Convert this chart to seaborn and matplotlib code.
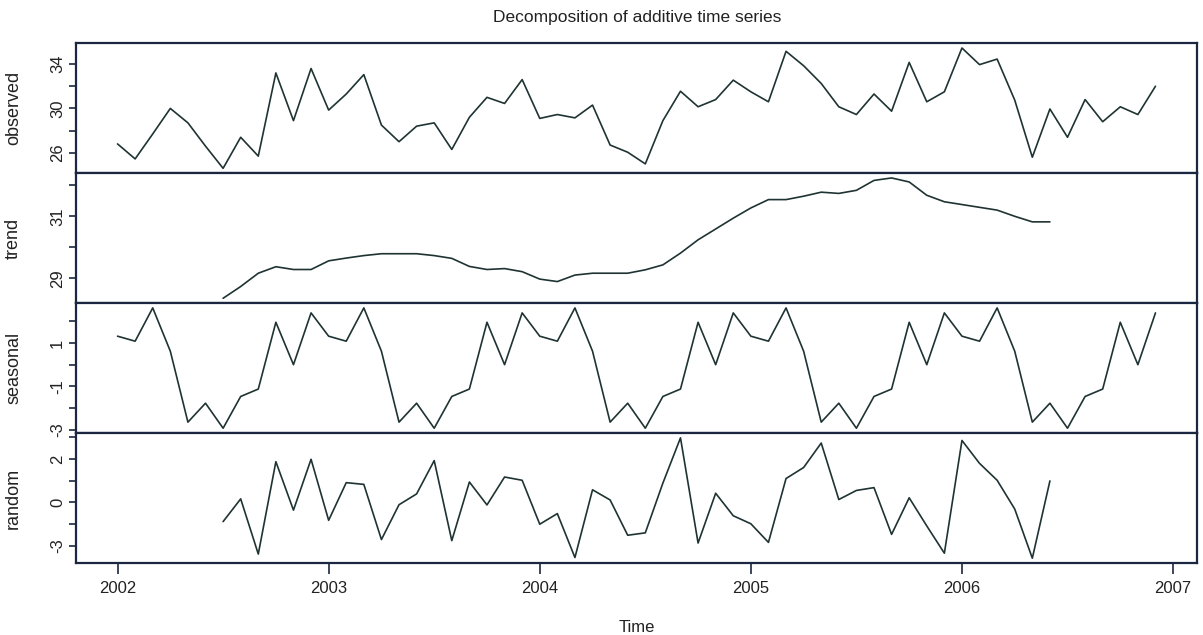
import numpy as np
import pandas as pd
import matplotlib
matplotlib.use("Agg")
import matplotlib.pyplot as plt
import seaborn as sns

# Monthly series, Jan 2002 - Dec 2006
start_year = 2002
n_months = 60

observed = [26.8, 25.45, 27.7, 30.0, 28.7, 26.6, 24.6, 27.4, 25.7, 33.2, 28.9, 33.6,
            29.85, 31.3, 33.05, 28.5, 27.0, 28.4, 28.7, 26.3, 29.2, 31.0, 30.45, 32.6,
            29.1, 29.45, 29.15, 30.3, 26.7, 26.05, 25.0, 28.9, 31.55, 30.15, 30.8, 32.55,
            31.5, 30.6, 35.15, 33.85, 32.25, 30.15, 29.45, 31.3, 29.75, 34.15, 30.6, 31.5,
            35.45, 33.95, 34.45, 30.75, 25.6, 29.95, 27.4, 30.8, 28.8, 30.15, 29.45, 32.0]

# centred moving average: defined from month 7 to month 54
trend_offset = 6
trend = [28.35, 28.73, 29.16, 29.37, 29.28, 29.28, 29.56, 29.65, 29.73, 29.79, 29.79, 29.79,
         29.73, 29.64, 29.38, 29.28, 29.31, 29.21, 28.97, 28.89, 29.1, 29.16, 29.16, 29.16,
         29.27, 29.43, 29.81, 30.24, 30.59, 30.94, 31.27, 31.54, 31.54, 31.65, 31.78, 31.74,
         31.84, 32.16, 32.24, 32.11, 31.68, 31.47, 31.38, 31.29, 31.2, 31.0, 30.82, 30.82]

# seasonal figure (one value per calendar month)
seasonal_figure = [1.31, 1.08, 2.61, 0.62, -2.64, -1.77, -2.92, -1.46, -1.12, 1.95, 0.0, 2.38]

random_part = [-0.89, 0.16, -2.39, 1.88, -0.36, 1.99, -0.83, 0.91, 0.83, -1.72, -0.11, 0.39,
               1.93, -1.77, 0.94, -0.12, 1.17, 1.02, -1.01, -0.52, -2.55, 0.58, 0.11, -1.52,
               -1.41, 0.89, 2.98, -1.88, 0.42, -0.62, -0.99, -1.85, 1.1, 1.61, 2.74, 0.13,
               0.55, 0.68, -1.48, 0.21, -1.09, -2.35, 2.86, 1.8, 1.02, -0.31, -2.58, 0.99]

panel_names = ["observed", "trend", "seasonal", "random"]
year_ticks = [2002, 2003, 2004, 2005, 2006, 2007]

ytick_sets = {
    "observed": ([26, 28, 30, 32, 34], ["26", "", "30", "", "34"]),
    "trend": ([29, 30, 31, 32], ["29", "", "31", ""]),
    "seasonal": ([-3, -2, -1, 0, 1, 2], ["-3", "", "-1", "", "1", ""]),
    "random": ([-2, -1, 0, 1, 2, 3], ["-3", "", "0", "", "2", ""]),
}

time = start_year + np.arange(n_months) / 12.0
seasonal = np.tile(seasonal_figure, n_months // 12)

frames = {
    "observed": pd.DataFrame({"time": time, "value": observed}),
    "trend": pd.DataFrame({"time": time[trend_offset:trend_offset + len(trend)], "value": trend}),
    "seasonal": pd.DataFrame({"time": time, "value": seasonal}),
    "random": pd.DataFrame({"time": time[trend_offset:trend_offset + len(random_part)], "value": random_part}),
}

sns.set_theme(style="white")
plt.rcParams["font.family"] = ["Liberation Sans", "DejaVu Sans"]

line_color = "#1f3333"
frame_color = "#1b2640"

fig, axes = plt.subplots(4, 1, figsize=(12.03, 6.35), dpi=100, sharex=True,
                         gridspec_kw={"hspace": 0})
fig.subplots_adjust(left=0.0632, right=0.995, top=0.932, bottom=0.1134)

x_span = time[-1] - time[0]
xlim = (time[0] - 0.04 * x_span, time[-1] + 0.04 * x_span)

for ax, name in zip(axes, panel_names):
    df = frames[name]
    sns.lineplot(data=df, x="time", y="value", ax=ax, color=line_color,
                 linewidth=1.2, estimator=None)
    lo, hi = df["value"].min(), df["value"].max()
    pad = 0.04 * (hi - lo)
    ax.set_ylim(lo - pad, hi + pad)
    ax.set_xlim(*xlim)
    ticks, labels = ytick_sets[name]
    ax.set_yticks(ticks)
    ax.set_yticklabels(labels, rotation=90, va="center", fontsize=12)
    ax.set_ylabel(name, fontsize=13, color="#222222")
    ax.yaxis.set_label_coords(-0.048, 0.5)
    ax.set_xlabel("")
    ax.tick_params(axis="y", direction="out", length=5, width=1.2,
                   color=frame_color, left=True, pad=3, labelcolor="#222222")
    for sp in ax.spines.values():
        sp.set_color(frame_color)
        sp.set_linewidth(1.6)

bottom = axes[-1]
bottom.set_xticks(year_ticks)
bottom.set_xticklabels([str(y) for y in year_ticks], fontsize=12, color="#222222")
bottom.tick_params(axis="x", direction="out", length=8, width=1.2,
                   color=frame_color, bottom=True, pad=5)
for ax in axes[:-1]:
    ax.tick_params(axis="x", bottom=False, labelbottom=False)
bottom.set_xlabel("Time", fontsize=12, color="#222222", labelpad=17)

fig.suptitle("Decomposition of additive time series", fontsize=12.5,
             x=0.5296, y=0.985, color="#222222")

fig.savefig("out.png", dpi=100, facecolor="white")
